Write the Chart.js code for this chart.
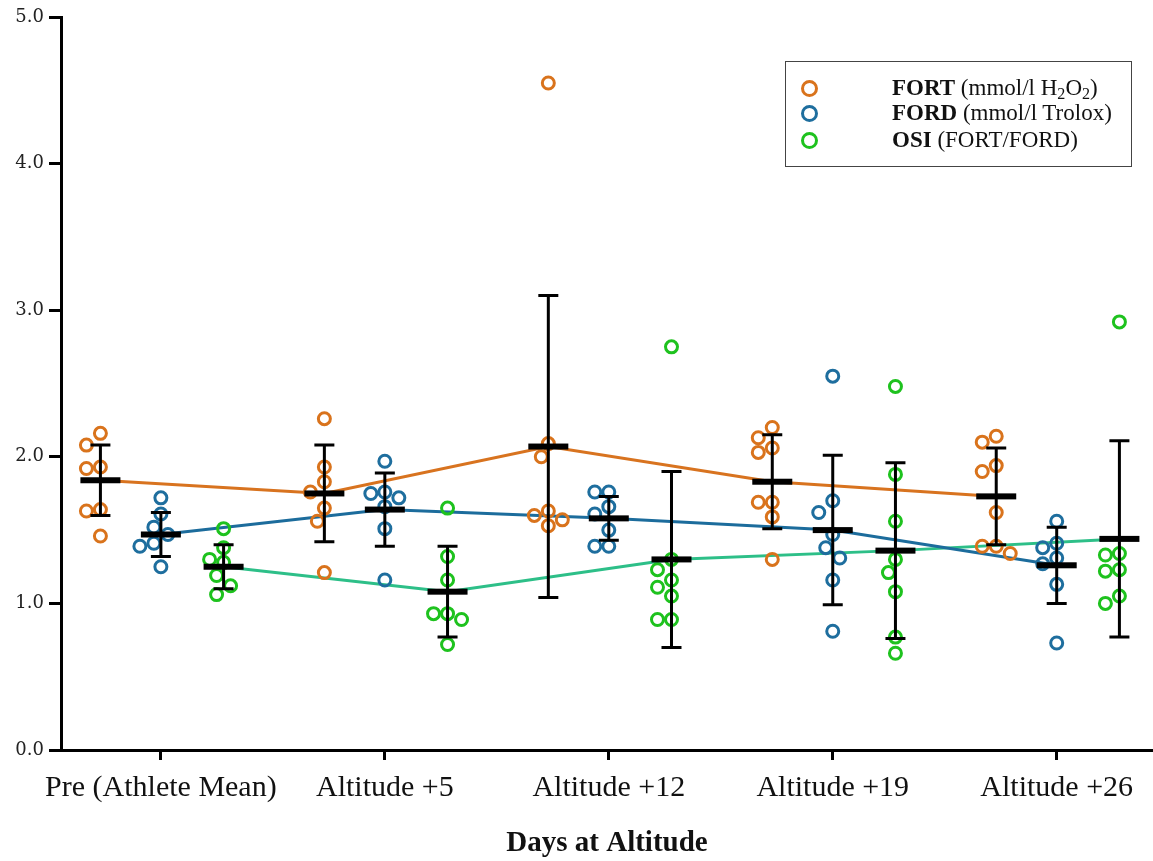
<!DOCTYPE html>
<html>
<head>
<meta charset="utf-8">
<script src="https://cdn.jsdelivr.net/npm/chart.js@4/dist/chart.umd.min.js"></script>
<style>
  html, body { margin: 0; padding: 0; background: #fff; }
  #wrap { position: relative; width: 1153px; height: 861px; }
  #legend {
    position: absolute; left: 785px; top: 61px; width: 345px; height: 104px;
    border: 1.5px solid #444; font-family: "Liberation Serif", serif; font-size: 23px; color: #111;
  }
  #legend .row { position: absolute; left: 0; height: 26px; line-height: 26px; white-space: nowrap; }
  #legend .dot {
    position: absolute; left: 15px; top: 5px; width: 11px; height: 11px;
    border-radius: 50%; border: 3px solid;
  }
  #legend .txt { position: absolute; left: 106px; top: 0; }
  #legend sub { font-size: 0.7em; vertical-align: -0.25em; line-height: 0; }
</style>
</head>
<body>
<div id="wrap">
  <canvas id="chart" width="1153" height="861"></canvas>
  <div id="legend">
    <div class="row" style="top:13px"><span class="dot" style="border-color:#d9731c"></span><span class="txt"><b>FORT</b> (mmol/l H<sub>2</sub>O<sub>2</sub>)</span></div>
    <div class="row" style="top:38px"><span class="dot" style="border-color:#1e6e9e"></span><span class="txt"><b>FORD</b> (mmol/l Trolox)</span></div>
    <div class="row" style="top:65px"><span class="dot" style="border-color:#1ec21e"></span><span class="txt"><b>OSI</b> (FORT/FORD)</span></div>
  </div>
</div>
<script>
// categorias del eje x
const categories = ['Pre (Athlete Mean)', 'Altitude +5', 'Altitude +12', 'Altitude +19', 'Altitude +26'];
const yTicks = [0, 1, 2, 3, 4, 5];

// valores individuales (un array por momento)
const fortPoints = [
  [2.16, 2.08, 1.93, 1.92, 1.64, 1.63, 1.46],
  [2.26, 1.93, 1.83, 1.76, 1.65, 1.56, 1.21],
  [4.55, 2.09, 2.00, 1.63, 1.60, 1.57, 1.53],
  [2.20, 2.13, 2.06, 2.03, 1.69, 1.69, 1.59, 1.30],
  [2.14, 2.10, 1.94, 1.90, 1.62, 1.39, 1.39, 1.34]
];
const fordPoints = [
  [1.72, 1.61, 1.52, 1.47, 1.41, 1.39, 1.25],
  [1.97, 1.76, 1.75, 1.72, 1.66, 1.51, 1.16],
  [1.76, 1.76, 1.66, 1.61, 1.50, 1.39, 1.39],
  [2.55, 1.70, 1.62, 1.47, 1.38, 1.31, 1.16, 0.81],
  [1.56, 1.41, 1.38, 1.31, 1.27, 1.13, 0.73]
];
const osiPoints = [
  [1.51, 1.38, 1.30, 1.28, 1.19, 1.12, 1.06],
  [1.65, 1.32, 1.16, 0.93, 0.93, 0.89, 0.72],
  [2.75, 1.30, 1.23, 1.16, 1.11, 1.05, 0.89, 0.89],
  [2.48, 1.88, 1.56, 1.30, 1.21, 1.08, 0.77, 0.66],
  [2.92, 1.34, 1.33, 1.23, 1.22, 1.05, 1.00]
];

// medias y desviaciones
const fortMean = [1.84, 1.75, 2.07, 1.83, 1.73];
const fortSd   = [0.24, 0.33, 1.03, 0.32, 0.33];
const fordMean = [1.47, 1.64, 1.58, 1.50, 1.26];
const fordSd   = [0.15, 0.25, 0.15, 0.51, 0.26];
const osiMean  = [1.25, 1.08, 1.30, 1.36, 1.44];
const osiSd    = [0.15, 0.31, 0.60, 0.60, 0.67];

const SERIES = [
  { name: 'FORT', pts: fortPoints, mean: fortMean, sd: fortSd, off: -0.27, color: '#d9731c', line: '#d8731f' },
  { name: 'FORD', pts: fordPoints, mean: fordMean, sd: fordSd, off: 0, color: '#1e6e9e', line: '#1c6c9c' },
  { name: 'OSI',  pts: osiPoints,  mean: osiMean,  sd: osiSd,  off: 0.28, color: '#1ec21e', line: '#2dbf88' }
];

const serif = '"Liberation Serif", "Times New Roman", serif';

// barras de media + error (negro, encima de todo)
const meanBars = {
  id: 'meanBars',
  afterDatasetsDraw(chart) {
    const { ctx, scales: { x, y } } = chart;
    ctx.save();
    ctx.strokeStyle = '#000';
    ctx.fillStyle = '#000';
    SERIES.forEach((s) => {
      s.mean.forEach((m, g) => {
        const px = x.getPixelForValue(g + s.off);
        const top = y.getPixelForValue(m + s.sd[g]);
        const bot = y.getPixelForValue(m - s.sd[g]);
        const my = y.getPixelForValue(m);
        ctx.lineWidth = 3;
        ctx.beginPath();
        ctx.moveTo(px, top); ctx.lineTo(px, bot);
        ctx.moveTo(px - 10, top); ctx.lineTo(px + 10, top);
        ctx.moveTo(px - 10, bot); ctx.lineTo(px + 10, bot);
        ctx.stroke();
        ctx.fillRect(px - 20, my - 3, 40, 6);
      });
    });
    ctx.restore();
  }
};

const datasets = [];
SERIES.forEach((s) => {
  datasets.push({
    type: 'line',
    label: s.name + ' mean',
    data: s.mean.map((m, g) => ({ x: g + s.off, y: m })),
    borderColor: s.line,
    borderWidth: 3,
    pointRadius: 0,
    fill: false,
    tension: 0,
    order: 3
  });
});
SERIES.forEach((s) => {
  datasets.push({
    type: 'scatter',
    label: s.name,
    data: [],
    borderColor: s.color,
    backgroundColor: 'rgba(0,0,0,0)',
    borderWidth: 3,
    pointRadius: 6,
    order: 1
  });
});

const chart = new Chart(document.getElementById('chart'), {
  type: 'scatter',
  data: { datasets },
  options: {
    responsive: false,
    animation: false,
    devicePixelRatio: 1,
    layout: { autoPadding: false, padding: { top: 17, right: 0, bottom: 0, left: 0 } },
    plugins: { legend: { display: false }, tooltip: { enabled: false } },
    scales: {
      x: {
        type: 'linear',
        min: -0.446,
        max: 4.43,
        afterBuildTicks: (axis) => { axis.ticks = categories.map((c, i) => ({ value: i })); },
        afterFit: (axis) => { axis.height = 111; },
        ticks: {
          autoSkip: false, maxRotation: 0, padding: 10, color: '#111',
          font: { family: serif, size: 30 },
          callback: (v) => categories[v]
        },
        grid: { drawOnChartArea: false, drawTicks: true, tickLength: 10, tickWidth: 3, tickColor: '#000' },
        border: { display: true, color: '#000', width: 3 },
        title: {
          display: true, text: 'Days at Altitude', color: '#111',
          font: { family: serif, size: 29, weight: 'bold' },
          padding: { top: 0, bottom: 0 }
        }
      },
      y: {
        min: 0,
        max: 5,
        afterBuildTicks: (axis) => { axis.ticks = yTicks.map((v) => ({ value: v })); },
        afterFit: (axis) => { axis.width = 61; },
        ticks: {
          padding: 5, color: '#222',
          font: { family: '"DejaVu Serif", serif', size: 18 },
          callback: (v) => v.toFixed(1)
        },
        grid: { drawOnChartArea: false, drawTicks: true, tickLength: 12, tickWidth: 3, tickColor: '#000' },
        border: { display: true, color: '#000', width: 3 }
      }
    }
  },
  plugins: [meanBars]
});

// reparto tipo "beeswarm" de los puntos para que no se pisen
function swarm(values, center, xs, ys, d) {
  const placed = [];
  const cx = xs.getPixelForValue(center);
  return values.map((v) => {
    const py = ys.getPixelForValue(v);
    const cands = [0];
    for (let k = 1; k < 12; k++) cands.push(-k * d / 2, k * d / 2);
    let best = 0;
    for (const dx of cands) {
      if (placed.every((p) => Math.hypot(p.x - dx, p.y - py) >= d)) { best = dx; break; }
    }
    placed.push({ x: best, y: py });
    return { x: xs.getValueForPixel(cx + best), y: v };
  });
}

SERIES.forEach((s, i) => {
  const ds = chart.data.datasets[3 + i];
  ds.data = [];
  s.pts.forEach((vals, g) => {
    ds.data.push(...swarm(vals, g + s.off, chart.scales.x, chart.scales.y, 14));
  });
});
chart.update('none');
</script>
</body>
</html>
